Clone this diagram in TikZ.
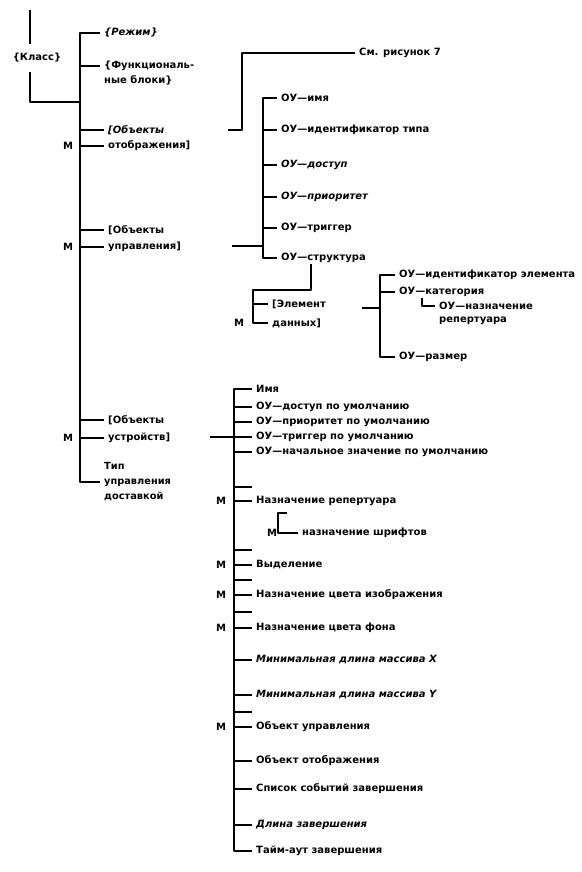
\documentclass[tikz,border=0pt]{standalone}
\usepackage{fontspec}
\setmainfont{DejaVu Sans}
\tikzset{
  spine/.style={line width=1.6pt},
  brk/.style={line width=1.6pt, shorten >=3pt},
  lbl/.style={anchor=west, inner sep=1pt, font=\bfseries},
  mk/.style={inner sep=0pt, font=\bfseries},
}
\begin{document}
\begin{tikzpicture}[x=1pt, y=-1pt, font=\fontsize{9.8}{13}\selectfont, line join=round]
\useasboundingbox (0,0) rectangle (581,872);
% Класс
\node[mk, inner ysep=9pt] (kls) at (37,58) {\{Класс\}};
\coordinate (kt) at (30,10);
\coordinate (mS) at (80,33);
\draw[spine] (kt) -- (kt |- kls.north);
\draw[spine] (kt |- kls.south) |- (mS |- 0,102);
% первый уровень
\node[lbl] (rez) at (103,33) {\itshape\{Режим\}};
\node[lbl] (fb1) at (103,66) {\{Функциональ-};
\node[lbl] (fb2) at (103,80) {ные блоки\}};
\node[lbl] (oo1) at (107,130) {\itshape [Объекты};
\node[lbl] (oo2) at (107,146) {отображения]};
\node[lbl] (ou1) at (107,230) {[Объекты};
\node[lbl] (ou2) at (107,247) {управления]};
\node[lbl] (ous1) at (107,420) {[Объекты};
\node[lbl] (ous2) at (107,438) {устройств]};
\node[lbl, align=left, font=\bfseries\fontsize{9.8}{15}\selectfont] (tip) at (103,482) {Тип\\управления\\доставкой};
\node[mk] (mOO) at (68,146) {М};
\node[mk] (mOU) at (68,247) {М};
\node[mk] (mOUS) at (68,438) {М};
\draw[spine] ([xshift=-3pt]rez.west) -- (mS) -- (mS |- tip.west) -- ([xshift=-3pt]tip.west);
\foreach \n in {fb1,oo1,oo2,ou1,ou2,ous1,ous2}
  \draw[brk] (mS |- \n.west) -- (\n.west);
% см. рисунок 7
\node[lbl] (see) at (358,53) {См. рисунок 7};
\coordinate (ooR) at (228,130);
\draw[brk] (ooR) -- ++(14,0) |- (see.west);
% объекты управления
\coordinate (oS) at (263,98);
\node[lbl] (oname) at (280,98) {ОУ—имя};
\node[lbl] (otype) at (280,130) {ОУ—идентификатор типа};
\node[lbl] (oacc) at (280,165) {\itshape ОУ—доступ};
\node[lbl] (oprio) at (280,197) {\itshape ОУ—приоритет};
\node[lbl] (otrig) at (280,228) {ОУ—триггер};
\node[lbl] (ostr) at (280,258) {ОУ—структура};
\draw[spine] ([xshift=-3pt]oname.west) -- (oS) -- (oS |- ostr.west) -- ([xshift=-3pt]ostr.west);
\foreach \n in {otype,oacc,oprio,otrig}
  \draw[brk] (oS |- \n.west) -- (\n.west);
\coordinate (ouR) at (232,246);
\draw[spine] (ouR) -- (oS |- ouR);
% элемент данных
\coordinate (eS) at (253,290);
\node[lbl] (ed1) at (271,304) {[Элемент};
\node[lbl] (ed2) at (271,323) {данных]};
\node[mk] (mED) at (239,323) {М};
\draw[spine] ([xshift=31pt]ostr.south west) |- (eS) -- (eS |- ed2.west) -- ([xshift=-3pt]ed2.west);
\draw[brk] (eS |- ed1.west) -- (ed1.west);
\coordinate (edR) at (362,308);
\coordinate (cS) at (380,275);
\node[lbl] (eid) at (398,275) {ОУ—идентификатор элемента};
\node[lbl] (ecat) at (398,292) {ОУ—категория};
\node[lbl] (erep1) at (438,306) {ОУ—назначение};
\node[lbl] (erep2) at (438,321) {репертуара};
\node[lbl] (esize) at (398,357) {ОУ—размер};
\draw[spine] ([xshift=-3pt]eid.west) -- (cS) -- (cS |- esize.west) -- ([xshift=-3pt]esize.west);
\draw[brk] (cS |- ecat.west) -- (ecat.west);
\draw[spine] (edR) -- (cS |- edR);
\draw[brk] ([xshift=24pt]ecat.south west) |- (erep1.west);
% объекты устройств
\coordinate (dS) at (234,389);
\foreach \n/\y/\t in {1/389/Имя, 2/407/ОУ—доступ по умолчанию, 3/422/ОУ—приоритет по умолчанию,
  4/437/ОУ—триггер по умолчанию, 5/452/ОУ—начальное значение по умолчанию,
  6/501/Назначение репертуара, 7/565/Выделение, 8/595/Назначение цвета изображения,
  9/628/Назначение цвета фона, 10/660/{\itshape Минимальная длина массива X},
  11/695/{\itshape Минимальная длина массива Y}, 12/727/Объект управления,
  13/761/Объект отображения, 14/789/Список событий завершения,
  15/825/{\itshape Длина завершения}, 16/851/Тайм-аут завершения}
  \node[lbl] (d\n) at (255,\y) {\t};
\draw[spine] ([xshift=-3pt]d1.west) -- (dS) -- (dS |- d16.west) -- ([xshift=-3pt]d16.west);
\foreach \n in {2,...,15}
  \draw[brk] (dS |- d\n.west) -- (d\n.west);
\foreach \y in {487,550,580,612,712}
  \draw[spine] (dS |- 0,\y) -- ++(18,0);
\coordinate (ousR) at (210,437);
\draw[spine] (ousR) -- (dS |- ousR);
\foreach \n/\y in {6/501,7/565,8/595,9/628,12/727}
  \node[mk] (md\n) at (221,\y) {М};
% назначение шрифтов
\node[lbl] (sh) at (301,533) {назначение шрифтов};
\node[mk] (msh) at (272,533) {М};
\coordinate (shT) at (287,513);
\draw[spine] (shT) -- (278,513) |- ([xshift=-3pt]sh.west);
\end{tikzpicture}
\end{document}
